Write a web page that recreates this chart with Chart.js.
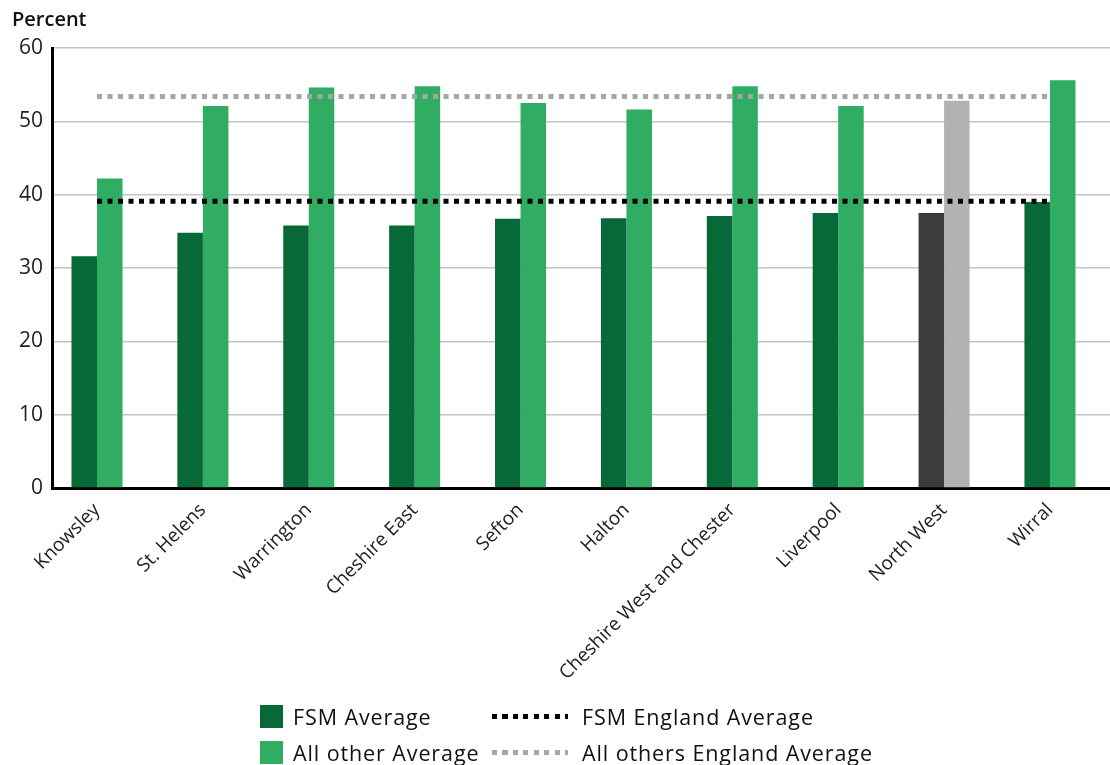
<!DOCTYPE html>
<html>
<head>
<meta charset="utf-8">
<title>FSM vs all other pupils</title>
<script src="https://cdn.jsdelivr.net/npm/chart.js@4/dist/chart.umd.min.js"></script>
<style>
  html, body { margin: 0; padding: 0; background: #fff; }
  #wrap { position: relative; width: 1110px; height: 765px; }
  #legend { font-family: "Open Sans", sans-serif; font-size: 21.5px; letter-spacing: 0.9px; color: #111; }
  .item { position: absolute; height: 24px; display: flex; align-items: center; white-space: nowrap; }
  .box { width: 23px; height: 23px; margin-right: 10px; }
  .dash { width: 76px; height: 5px; margin-right: 14px; }
</style>
</head>
<body>
<div id="wrap">
  <canvas id="chart" width="1110" height="765"></canvas>
  <div id="legend"></div>
</div>
<script>
// Data
const categories = [
  "Knowsley", "St. Helens", "Warrington", "Cheshire East", "Sefton",
  "Halton", "Cheshire West and Chester", "Liverpool", "North West", "Wirral",
];
const fsmAverage = [31.6, 34.8, 35.8, 35.8, 36.7, 36.8, 37.1, 37.5, 37.5, 39.0];
const allOtherAverage = [42.2, 52.1, 54.6, 54.8, 52.5, 51.6, 54.8, 52.1, 52.8, 55.6];
const fsmEnglandAverage = 39.1;
const allOthersEnglandAverage = 53.4;
const yTicks = [0, 10, 20, 30, 40, 50, 60];

const highlight = "North West";
const FONT = '"Open Sans", sans-serif';

function points(values) {
  return categories.map((c, i) => ({ x: i, y: values[i] }));
}

function flat(value) {
  return categories.map((c, i) => ({ x: i, y: value }));
}

const fsmColors = categories.map((c) => (c === highlight ? "#3c3c3b" : "#076937"));
const otherColors = categories.map((c) => (c === highlight ? "#b2b2b2" : "#30ac63"));

const chart = new Chart(document.getElementById("chart").getContext("2d"), {
  type: "bar",
  data: {
    datasets: [
      {
        label: "FSM Average",
        data: points(fsmAverage),
        backgroundColor: fsmColors,
        categoryPercentage: 0.482,
        barPercentage: 1,
        order: 1,
      },
      {
        label: "All other Average",
        data: points(allOtherAverage),
        backgroundColor: otherColors,
        categoryPercentage: 0.482,
        barPercentage: 1,
        order: 1,
      },
      {
        type: "line",
        label: "FSM England Average",
        data: flat(fsmEnglandAverage),
        borderColor: "#000000",
        borderWidth: 5,
        borderDash: [5, 5.5],
        borderCapStyle: "butt",
        pointRadius: 0,
        order: 0,
      },
      {
        type: "line",
        label: "All others England Average",
        data: flat(allOthersEnglandAverage),
        borderColor: "#a6a6a6",
        borderWidth: 5,
        borderDash: [5, 5.5],
        borderCapStyle: "butt",
        pointRadius: 0,
        order: 0,
      },
    ],
  },
  options: {
    responsive: false,
    animation: false,
    layout: { padding: { left: 12, right: 0, top: 0, bottom: 0 } },
    plugins: {
      legend: { display: false },
      tooltip: { enabled: false },
      title: {
        display: true,
        text: "Percent",
        align: "start",
        color: "#111",
        font: { family: FONT, size: 20, weight: "600" },
        padding: { top: 8, bottom: 16 },
      },
    },
    scales: {
      x: {
        type: "linear",
        min: -0.425,
        max: 9.567,
        offset: false,
        grid: { display: false, drawTicks: false, offset: false },
        border: { display: true, color: "#000", width: 3 },
        afterBuildTicks: (scale) => {
          scale.ticks = categories.map((c, i) => ({ value: i }));
        },
        ticks: {
          autoSkip: false,
          minRotation: 45,
          maxRotation: 45,
          padding: 11,
          color: "#222",
          font: { family: FONT, size: 19 },
          callback: (v) => categories[v],
        },
        afterFit: (scale) => {
          scale.height = 765 - 488;
        },
      },
      y: {
        min: yTicks[0],
        max: yTicks[yTicks.length - 1],
        grid: { color: "#c4c4c4", lineWidth: 1.5, drawTicks: false },
        border: { color: "#000", width: 3 },
        afterBuildTicks: (scale) => {
          scale.ticks = yTicks.map((v) => ({ value: v }));
        },
        ticks: {
          padding: 9,
          color: "#222",
          font: { family: FONT, size: 21 },
        },
        afterFit: (scale) => {
          scale.width = 40;
        },
      },
    },
  },
});

// Legend laid out as a 2x2 grid, like the original
const legendSlots = [
  { left: 260, top: 704 },
  { left: 260, top: 740 },
  { left: 492, top: 704 },
  { left: 492, top: 740 },
];

function buildLegend() {
  const legend = document.getElementById("legend");
  chart.data.datasets.forEach((ds, i) => {
    const item = document.createElement("div");
    item.className = "item";
    item.style.left = legendSlots[i].left + "px";
    item.style.top = legendSlots[i].top + "px";
    const swatch = document.createElement("span");
    if (ds.type === "line") {
      swatch.className = "dash";
      swatch.style.background =
        "repeating-linear-gradient(to right, " + ds.borderColor + " 0 5px, transparent 5px 10.5px)";
    } else {
      swatch.className = "box";
      swatch.style.background = i === 0 ? "#076937" : "#30ac63";
    }
    const text = document.createElement("span");
    text.textContent = ds.label;
    item.appendChild(swatch);
    item.appendChild(text);
    legend.appendChild(item);
  });
}

buildLegend();
</script>
</body>
</html>
